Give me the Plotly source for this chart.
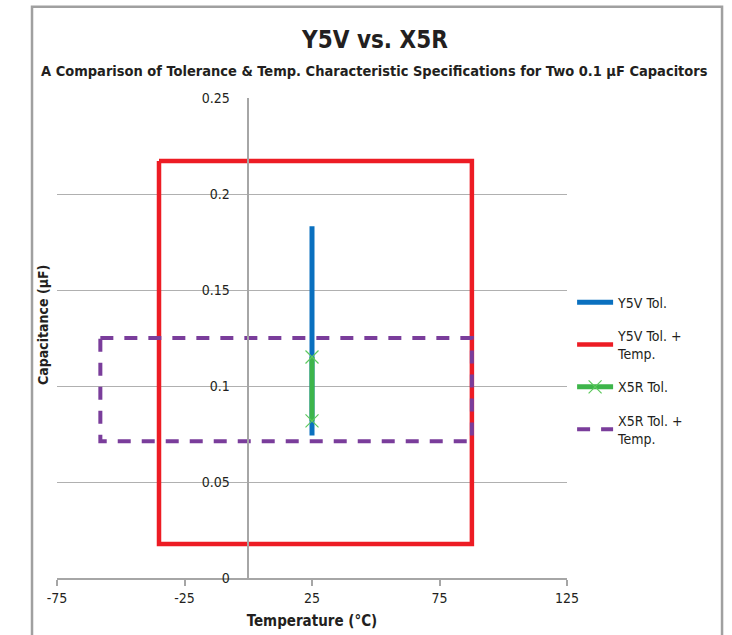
import plotly.graph_objects as go

# ---- data ----
y5v_tol_x = [25, 25]
y5v_tol_y = [0.0742, 0.1832]

y5v_tt_x = [-35, 87.7, 87.7, -35, -35]
y5v_tt_y = [0.2172, 0.2172, 0.0177, 0.0177, 0.2172]

x5r_tol_x = [25, 25]
x5r_tol_y = [0.0818, 0.1151]

x5r_tt_x = [-58, 87.7, 87.7, -58, -58]
x5r_tt_y = [0.125, 0.125, 0.0712, 0.0712, 0.125]

x_ticks = [-75, -25, 25, 75, 125]
y_ticks = [0, 0.05, 0.1, 0.15, 0.2, 0.25]
y_ticktext = ["0", "0.05", "0.1", "0.15", "0.2", "0.25"]

FONT = "DejaVu Sans Condensed, Liberation Sans Narrow, sans-serif"

fig = go.Figure()
fig.add_trace(go.Scatter(x=y5v_tt_x, y=y5v_tt_y, mode="lines", name="Y5V Tol. +<br>Temp.",
                         line=dict(color="#ed1c24", width=4.5), legendrank=2, legendgroup="b"))
fig.add_trace(go.Scatter(x=x5r_tt_x, y=x5r_tt_y, mode="lines", name="X5R Tol. +<br>Temp.",
                         line=dict(color="#7a3d9b", width=4, dash="13px,11px"), legendrank=4, legendgroup="d"))
fig.add_trace(go.Scatter(x=y5v_tol_x, y=y5v_tol_y, mode="lines", name="Y5V Tol.",
                         line=dict(color="#0a70bf", width=5), legendrank=1, legendgroup="a"))
fig.add_trace(go.Scatter(x=x5r_tol_x, y=x5r_tol_y, mode="lines+markers", name="X5R Tol.",
                         line=dict(color="#3db54a", width=5),
                         marker=dict(symbol="x-thin", size=13, line=dict(color="#5cc85c", width=1.2)),
                         legendrank=3, legendgroup="c"))

fig.update_layout(
    width=732, height=635,
    margin=dict(l=57, r=165, t=98, b=57, autoexpand=False),
    paper_bgcolor="white", plot_bgcolor="white",
    font=dict(family=FONT, size=14, color="#231f20"),
    showlegend=True,
    legend=dict(x=1.01, xanchor="left", y=0.607, yanchor="top",
                font=dict(family=FONT, size=14, color="#231f20"),
                bgcolor="rgba(0,0,0,0)", tracegroupgap=12, itemwidth=36),
    xaxis=dict(range=[-75, 125], tickvals=x_ticks, ticktext=[str(v) for v in x_ticks],
               automargin=False,
               showgrid=False, zeroline=False, showline=True, linecolor="#a6a6a6", linewidth=1.5,
               ticks="outside", ticklen=6, tickcolor="#a6a6a6", tickwidth=1.5,
               tickfont=dict(size=14),
               title=dict(text="<b>Temperature (°C)</b>", font=dict(size=15), standoff=11)),
    yaxis=dict(range=[0, 0.25], tickvals=y_ticks, ticktext=y_ticktext,
               anchor="free", position=0.375, side="left", automargin=False,
               showgrid=True, gridcolor="#b0b0b0", gridwidth=1.2,
               zeroline=False, showline=True, linecolor="#a6a6a6", linewidth=1.5,
               ticks="", tickfont=dict(size=14), ticklabelstandoff=15),
    annotations=[
        dict(text="<b>Y5V vs. X5R</b>", xref="paper", yref="paper", x=0.6225, y=(578 - 40) / 480,
             xanchor="center", yanchor="middle", showarrow=False, font=dict(size=24)),
        dict(text="<b>A Comparison of Tolerance & Temp. Characteristic Specifications for Two 0.1 μF Capacitors</b>",
             xref="paper", yref="paper", x=0.6225, y=(578 - 71) / 480,
             xanchor="center", yanchor="middle", showarrow=False, font=dict(size=14.5)),
        dict(text="<b>Capacitance (μF)</b>", xref="paper", yref="paper", x=-0.0275, y=0.527,
             xanchor="center", yanchor="middle", textangle=-90, showarrow=False, font=dict(size=14)),
    ],
    shapes=[dict(type="rect", xref="paper", yref="paper", x0=-0.049, x1=1.304, y0=-0.2, y1=1.19,
                 line=dict(color="#a0a0a0", width=2.5), layer="below")],
)
fig.write_html("out.html")
